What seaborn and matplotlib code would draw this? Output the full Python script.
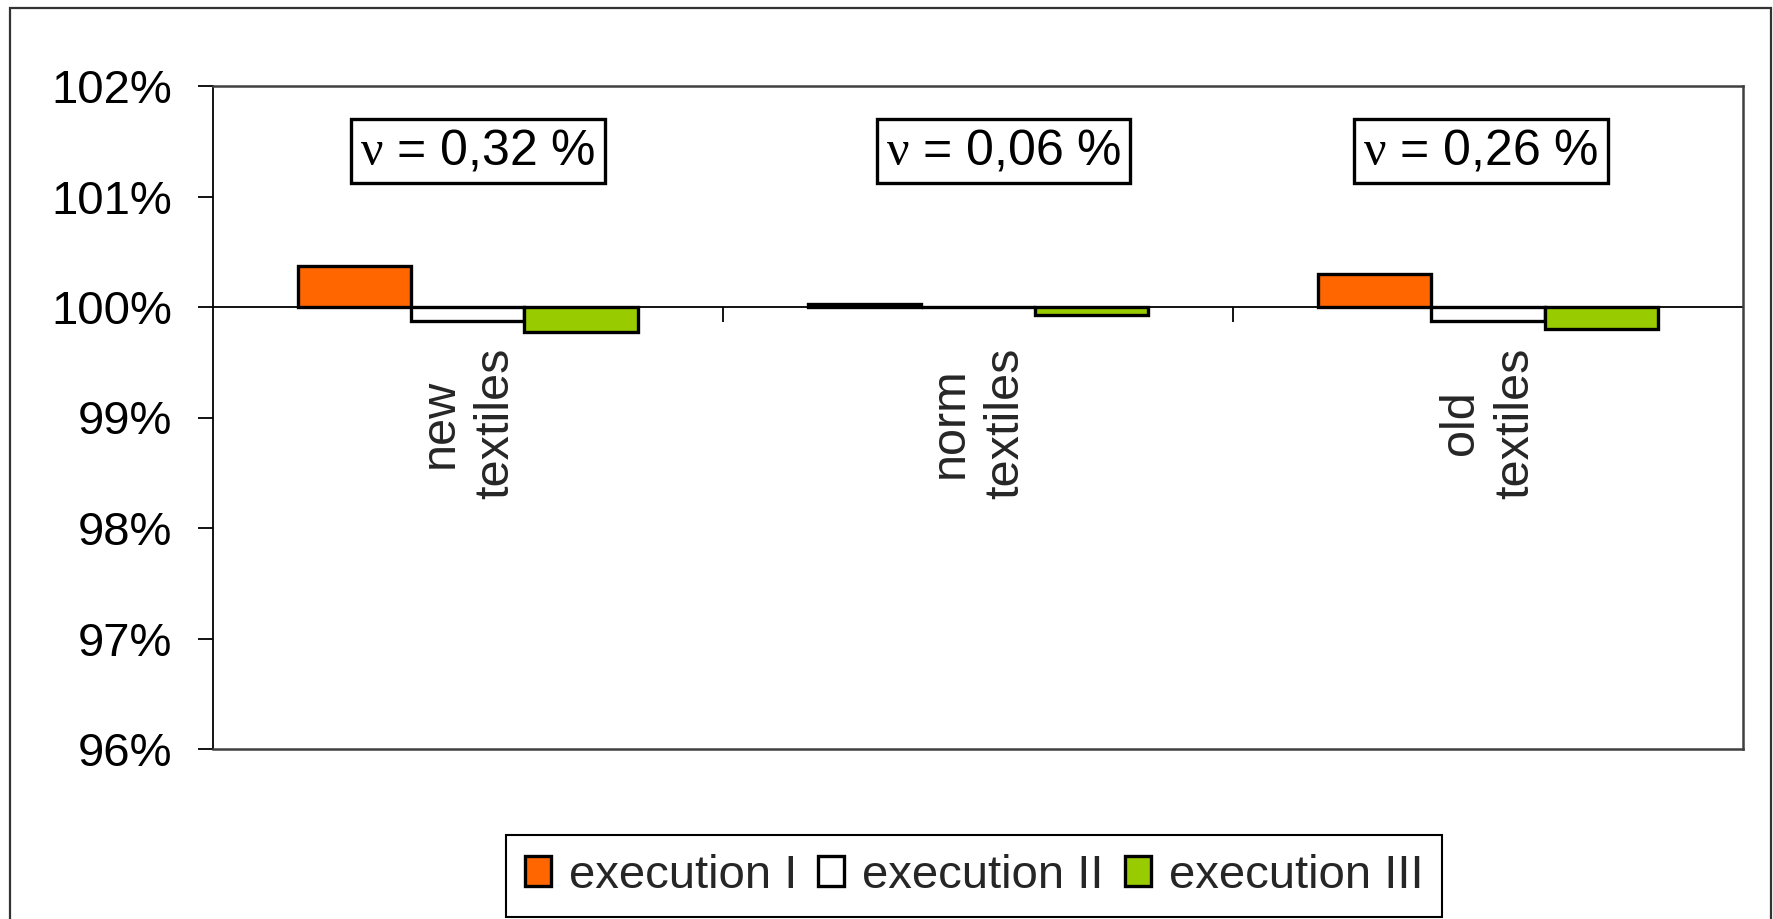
import matplotlib
matplotlib.use("Agg")
import matplotlib.pyplot as plt
from matplotlib.patches import Rectangle
import pandas as pd
import seaborn as sns

# Relative result of each execution, in percent of the reference (100 %)
materials = ["new\ntextiles", "norm\ntextiles", "old\ntextiles"]
executions = ["execution I", "execution II", "execution III"]
exec_1 = [100.37, 100.03, 100.30]
exec_2 = [99.87, 100.00, 99.87]
exec_3 = [99.77, 99.93, 99.80]
cv_labels = ["0,32", "0,06", "0,26"]
y_ticks = [96, 97, 98, 99, 100, 101, 102]
baseline = 100
colors = ["#FF6600", "#FFFFFF", "#99CC00"]

rows = []
for name, vals in zip(executions, [exec_1, exec_2, exec_3]):
    for m, v in zip(materials, vals):
        rows.append({"material": m, "execution": name, "offset": v - baseline})
df = pd.DataFrame(rows)

sns.set_style("white")
plt.rcParams["font.family"] = ["Liberation Sans", "DejaVu Sans"]
plt.rcParams["mathtext.fontset"] = "custom"
plt.rcParams["mathtext.rm"] = "Liberation Serif"
plt.rcParams["mathtext.it"] = "Liberation Serif:italic"

FS = 34
W, H = 1774, 919
fig = plt.figure(figsize=(W / 100, H / 100), dpi=100)
fig.patch.set_facecolor("white")
ax = fig.add_axes([212.7 / W, 1 - 749 / H, (1743 - 212.7) / W, (749 - 86) / H])

sns.barplot(
    data=df, x="material", y="offset", hue="execution",
    order=materials, hue_order=executions, palette=colors, saturation=1,
    width=3 / 4.5, edgecolor="black", linewidth=2.4, errorbar=None, ax=ax,
)

ax.set_xlim(-0.5, len(materials) - 0.5)
ax.set_ylim(y_ticks[0] - baseline, y_ticks[-1] - baseline)
ax.set_yticks([t - baseline for t in y_ticks])
ax.set_yticklabels([f"{t}%" for t in y_ticks])
ax.set_xlabel("")
ax.set_ylabel("")
ax.tick_params(axis="x", bottom=False, labelbottom=False)
ax.tick_params(axis="y", left=True, direction="out", length=10.5, width=1.3,
               pad=18.5, labelsize=FS, colors="black")
for side in ["top", "right", "bottom"]:
    ax.spines[side].set_color("#404040")
    ax.spines[side].set_linewidth(1.8)
ax.spines["left"].set_color("black")
ax.spines["left"].set_linewidth(1.3)

# category axis crossing at 100 %
y0, y1 = ax.get_ylim()
sec = ax.secondary_xaxis((0 - y0) / (y1 - y0))
sec.set_alignment("bottom")
sec.set_xticks(range(len(materials)), materials)
sec.set_xticks([i + 0.5 for i in range(len(materials) - 1)], minor=True)
sec.tick_params(axis="x", which="major", bottom=True, length=0, pad=29,
                labelsize=FS + 1, labelrotation=90)
sec.tick_params(axis="x", which="minor", bottom=True, length=10.5, width=1.3,
                direction="out", color="black")
sec.spines["bottom"].set_color("black")
sec.spines["bottom"].set_linewidth(1.3)
for lab in sec.get_xticklabels():
    lab.set_linespacing(1.3)
    lab.set_multialignment("center")

# coefficient of variation boxes
box_dx = [0.02, 0.05, -0.014]
for i, (lab, dx) in enumerate(zip(cv_labels, box_dx)):
    ax.text(i + dx, 1.41, rf"$\mathrm{{\nu}}$ = {lab} %", ha="center", va="center",
            fontsize=36, color="black",
            bbox=dict(boxstyle="square,pad=0.18", fc="white", ec="black", lw=2.4))

sns.move_legend(
    ax, "center", bbox_to_anchor=(0.4975, -0.1916), ncol=3, title=None,
    frameon=True, fontsize=FS, handlelength=0.55, handleheight=0.6,
    handletextpad=0.38, columnspacing=0.45, borderpad=0.4, fancybox=False,
    edgecolor="black", framealpha=1,
)
ax.get_legend().get_frame().set_linewidth(1.5)

# chart area border
fig.add_artist(Rectangle((10 / W, -0.02), (1771 - 10) / W, (1 - 8 / H) + 0.02,
                         transform=fig.transFigure, fill=False, ec="#333333", lw=1.6))

fig.savefig("out.png", dpi=100, facecolor="white")
